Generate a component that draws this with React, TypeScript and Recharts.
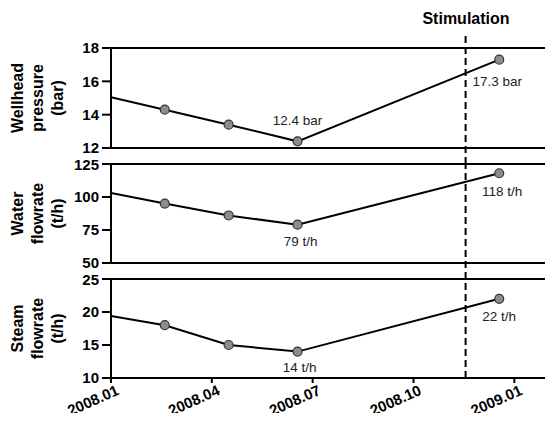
import React from 'react'
import { LineChart, Line, XAxis, YAxis, ReferenceLine, LabelList } from 'recharts'

// x is months since 2008.01
const months = [0, 1.6, 3.5, 5.55, 11.55]
const pressure = [15.05, 14.3, 13.4, 12.4, 17.3]
const water = [103, 95, 86, 79, 118]
const steam = [19.4, 18, 15, 14, 22]

const xTicks = [0, 3, 6, 9, 12]
const xTickLabels = ['2008.01', '2008.04', '2008.07', '2008.10', '2009.01']
const stimulation = 10.55

const FONT = '"Liberation Sans", Arial, Helvetica, sans-serif'
const X_MAX = 13.15

const buildRows = (values: number[]) => months.map((m, i) => ({ m, v: values[i] }))

interface PanelLabel {
  index: number
  dx: number
  dy: number
}

interface PanelProps {
  values: number[]
  domain: [number, number]
  ticks: number[]
  title: string[]
  unit: string
  labels: PanelLabel[]
  top: number
  marginTop: number
  height: number
  xAxisHeight: number
  lineTop: number
  lineBottom: number
  showDates?: boolean
}

const DateTick = (props: any) => {
  const { x, y, payload } = props
  const idx = xTicks.indexOf(payload.value)
  const tx = x + 9
  const ty = y + 9
  return (
    <text
      x={tx}
      y={ty}
      textAnchor="end"
      transform={`rotate(-24 ${tx} ${ty})`}
      fontFamily={FONT}
      fontWeight="bold"
      fontSize={15}
      fill="#000"
    >
      {idx >= 0 ? xTickLabels[idx] : ''}
    </text>
  )
}

function Panel({ values, domain, ticks, title, unit, labels, top, marginTop, height, xAxisHeight, lineTop, lineBottom, showDates }: PanelProps) {
  const data = buildRows(values)
  return (
    <div style={{ position: 'absolute', left: 0, top }}>
      <LineChart width={545} height={height} data={data} margin={{ top: marginTop, right: 0, bottom: 0, left: 0 }}>
        <XAxis
          dataKey="m"
          type="number"
          domain={[0, X_MAX]}
          ticks={xTicks}
          allowDataOverflow
          height={xAxisHeight}
          axisLine={{ stroke: '#000', strokeWidth: 2 }}
          tickLine={{ stroke: '#000', strokeWidth: 2 }}
          tickSize={5}
          tick={showDates ? <DateTick /> : false}
          interval={0}
        />
        <YAxis
          type="number"
          domain={domain}
          ticks={ticks}
          width={103}
          allowDataOverflow
          axisLine={{ stroke: '#000', strokeWidth: 2 }}
          tickLine={{ stroke: '#000', strokeWidth: 2 }}
          tickSize={9}
          tickMargin={3}
          tick={{ fill: '#000', fontSize: 15, fontWeight: 'bold', fontFamily: FONT }}
          label={{
            content: (p: any) => {
              const vb = p.viewBox
              const cx = 29
              const cy = vb.y + vb.height / 2
              return (
                <text
                  x={cx}
                  y={cy}
                  transform={`rotate(-90 ${cx} ${cy})`}
                  textAnchor="middle"
                  dominantBaseline="central"
                  fontFamily={FONT}
                  fontWeight="bold"
                  fontSize={16}
                  fill="#000"
                >
                  {title.map((t, i) => (
                    <tspan key={t} x={cx} dy={i === 0 ? -(title.length - 1) * 10 : 20}>
                      {t}
                    </tspan>
                  ))}
                </text>
              )
            },
          }}
        />
        <ReferenceLine y={domain[1]} stroke="#000" strokeWidth={2} />
        <ReferenceLine
          segment={[
            { x: stimulation, y: lineBottom },
            { x: stimulation, y: lineTop },
          ]}
          ifOverflow="visible"
          stroke="#000"
          strokeWidth={2}
          strokeDasharray="7 4"
        />
        <Line
          dataKey="v"
          stroke="#000"
          strokeWidth={2}
          isAnimationActive={false}
          dot={(p: any) =>
            p.index === 0 ? (
              <g key={`d${p.index}`} />
            ) : (
              <circle key={`d${p.index}`} cx={p.cx} cy={p.cy} r={4.5} fill="#8c8c8c" stroke="#333" strokeWidth={1.2} />
            )
          }
          activeDot={false}
        >
          <LabelList
            dataKey="v"
            content={(p: any) => {
              const lab = labels.find((l) => l.index === p.index)
              if (!lab) return null
              return (
                <text
                  x={p.x + lab.dx}
                  y={p.y + lab.dy}
                  textAnchor="middle"
                  dominantBaseline="central"
                  fontFamily={FONT}
                  fontSize={13.5}
                  fill="#222"
                >
                  {`${p.value} ${unit}`}
                </text>
              )
            }}
          />
        </Line>
      </LineChart>
    </div>
  )
}

export default function App() {
  return (
    <div style={{ position: 'relative', width: 545, height: 405, fontFamily: FONT }}>
      <style>{'.recharts-surface { overflow: visible; }'}</style>
      <div
        style={{
          position: 'absolute',
          left: 398,
          top: 3,
          width: 120,
          textAlign: 'center',
          fontWeight: 'bold',
          fontSize: 16,
          lineHeight: '16px',
          color: '#000',
        }}
      >
        Stimulation
      </div>
      <Panel
        values={pressure}
        domain={[12, 18]}
        ticks={[12, 14, 16, 18]}
        title={['Wellhead', 'pressure', '(bar)']}
        unit="bar"
        labels={[
          { index: 3, dx: 0, dy: -21 },
          { index: 4, dx: -2, dy: 22 },
        ]}
        top={0}
        marginTop={40}
        height={156}
        xAxisHeight={16}
        lineTop={18.96}
        lineBottom={11.04}
      />
      <Panel
        values={water}
        domain={[50, 125]}
        ticks={[50, 75, 100, 125]}
        title={['Water', 'flowrate', '(t/h)']}
        unit="t/h"
        labels={[
          { index: 3, dx: 3, dy: 17 },
          { index: 4, dx: 3, dy: 18 },
        ]}
        top={148}
        marginTop={8}
        height={123}
        xAxisHeight={16}
        lineTop={125}
        lineBottom={37.9}
      />
      <Panel
        values={steam}
        domain={[10, 25]}
        ticks={[10, 15, 20, 25]}
        title={['Steam', 'flowrate', '(t/h)']}
        unit="t/h"
        labels={[
          { index: 3, dx: 2, dy: 16 },
          { index: 4, dx: 0, dy: 18 },
        ]}
        top={263}
        marginTop={8}
        height={142}
        xAxisHeight={35}
        lineTop={25}
        lineBottom={10}
        showDates
      />
    </div>
  )
}
